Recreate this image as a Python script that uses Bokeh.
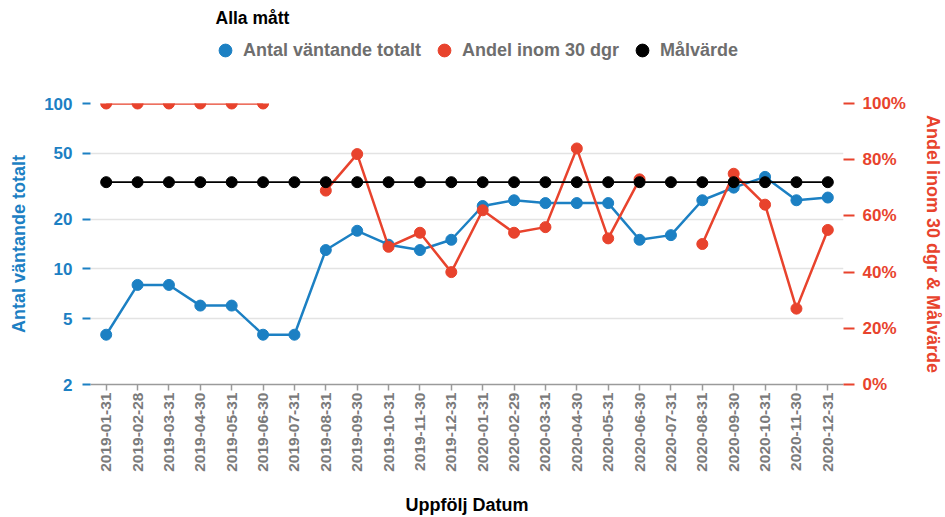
import math
from bokeh.plotting import figure
from bokeh.layouts import column
from bokeh.models import (Range1d, FactorRange, LinearAxis, LinearScale, FixedTicker,
                          PrintfTickFormatter, Legend, LegendItem)
from bokeh.embed import file_html
from bokeh.resources import INLINE

NaN = float("nan")

dates = ["2019-01-31", "2019-02-28", "2019-03-31", "2019-04-30", "2019-05-31", "2019-06-30",
         "2019-07-31", "2019-08-31", "2019-09-30", "2019-10-31", "2019-11-30", "2019-12-31",
         "2020-01-31", "2020-02-29", "2020-03-31", "2020-04-30", "2020-05-31", "2020-06-30",
         "2020-07-31", "2020-08-31", "2020-09-30", "2020-10-31", "2020-11-30", "2020-12-31"]
antal_vantande = [4, 8, 8, 6, 6, 4, 4, 13, 17, 14, 13, 15, 24, 26, 25, 25, 25, 15, 16, 26, 31, 36, 26, 27]
andel_30 = [100, 100, 100, 100, 100, 100, NaN, 69, 82, 49, 54, 40, 62, 54, 56, 84, 52, 73, NaN, 50, 75, 64, 27, 55]
malvarde = [72] * 24

series_names = ["Antal väntande totalt", "Andel inom 30 dgr", "Målvärde"]
left_ticks = [2, 5, 10, 20, 50, 100]
right_ticks = [0, 20, 40, 60, 80, 100]

BLUE = "#1C80C3"
RED = "#E8432D"
BLACK = "#000000"
GREY = "#7a7a7a"
FONT = "Liberation Sans"

# ---------------- header: title + legend ----------------
head = figure(width=945, height=70, x_range=(0, 1), y_range=(0, 1),
              output_backend="svg", toolbar_location=None,
              min_border_left=0, min_border_right=0, min_border_top=0, min_border_bottom=0)
head.axis.visible = False
head.grid.grid_line_color = None
head.outline_line_color = None
head.title.text = "Alla mått"
head.title.align = "left"
head.title.offset = 125
head.title.text_font = FONT
head.title.text_font_style = "bold"
head.title.text_font_size = "17.5px"
head.title.text_color = BLACK

# legend proxies (no visible data, only used for the legend swatches)
lg_renderers = [head.scatter(x=[NaN], y=[NaN], size=11, fill_color=c, line_color=c)
                for c in (BLUE, RED, BLACK)]
legend = Legend(items=[LegendItem(label=n, renderers=[r]) for n, r in zip(series_names, lg_renderers)],
                orientation="horizontal", location=(119, 4),
                border_line_color=None, background_fill_alpha=0,
                padding=0, margin=0, spacing=7,
                glyph_width=32, glyph_height=32, label_standoff=2,
                label_text_font=FONT, label_text_font_style="bold",
                label_text_font_size="18px", label_text_color="#6e6e6e")
head.add_layout(legend)

# ---------------- main chart ----------------
p = figure(width=945, height=447, x_range=FactorRange(factors=dates, range_padding=0),
           y_axis_type="log", y_range=Range1d(2, 100),
           output_backend="svg", toolbar_location=None,
           min_border_left=90, min_border_right=93, min_border_top=33, min_border_bottom=132)
p.outline_line_color = None
p.background_fill_color = "white"
p.extra_y_ranges = {"pct": Range1d(0, 100)}
p.extra_y_scales = {"pct": LinearScale()}

p.xgrid.grid_line_color = None
p.ygrid.ticker = FixedTicker(ticks=[5, 10, 20, 50, 100])
p.ygrid.grid_line_color = "#e3e3e3"
p.ygrid.grid_line_width = 1.5

p.line(dates, antal_vantande, line_color=BLUE, line_width=2.5)
p.scatter(dates, antal_vantande, size=11, fill_color=BLUE, line_color=BLUE)
p.line(dates, andel_30, y_range_name="pct", line_color=RED, line_width=2.5)
p.scatter(dates, andel_30, y_range_name="pct", size=11, fill_color=RED, line_color=RED)
p.line(dates, malvarde, y_range_name="pct", line_color=BLACK, line_width=1.8)
p.scatter(dates, malvarde, y_range_name="pct", size=11, fill_color=BLACK, line_color=BLACK)

# left axis
ya = p.yaxis[0]
ya.ticker = FixedTicker(ticks=left_ticks)
ya.formatter = PrintfTickFormatter(format="%d")
ya.axis_label = series_names[0]
ya.axis_line_color = None
ya.major_tick_line_color = BLUE
ya.major_tick_line_width = 2
ya.major_tick_out = 8
ya.major_tick_in = 0
ya.minor_tick_line_color = None
ya.major_label_text_color = BLUE
ya.major_label_text_font = FONT
ya.major_label_text_font_style = "bold"
ya.major_label_text_font_size = "17px"
ya.major_label_standoff = 10
ya.axis_label_text_color = BLUE
ya.axis_label_text_font = FONT
ya.axis_label_text_font_style = "bold"
ya.axis_label_text_font_size = "18px"
ya.axis_label_standoff = 12

# right axis
ra = LinearAxis(y_range_name="pct", ticker=FixedTicker(ticks=right_ticks),
                formatter=PrintfTickFormatter(format="%d%%"),
                axis_label="Andel inom 30 dgr & Målvärde")
ra.axis_line_color = None
ra.major_tick_line_color = RED
ra.major_tick_line_width = 2
ra.major_tick_out = 11
ra.major_tick_in = 0
ra.minor_tick_line_color = None
ra.major_label_text_color = RED
ra.major_label_text_font = FONT
ra.major_label_text_font_style = "bold"
ra.major_label_text_font_size = "17px"
ra.major_label_standoff = 8
ra.axis_label_text_color = RED
ra.axis_label_text_font = FONT
ra.axis_label_text_font_style = "bold"
ra.axis_label_text_font_size = "18px"
ra.axis_label_standoff = 14
p.add_layout(ra, "right")

# bottom axis
xa = p.xaxis[0]
xa.major_label_orientation = math.pi / 2
xa.axis_line_color = "#9a9a9a"
xa.axis_line_width = 1.5
xa.major_tick_line_color = "#9a9a9a"
xa.major_tick_line_width = 1.5
xa.major_tick_out = 6
xa.major_tick_in = 0
xa.major_label_text_color = GREY
xa.major_label_text_font = FONT
xa.major_label_text_font_style = "bold"
xa.major_label_text_font_size = "15.5px"
xa.major_label_standoff = 2
xa.axis_label = "Uppfölj Datum"
xa.axis_label_text_color = BLACK
xa.axis_label_text_font = FONT
xa.axis_label_text_font_style = "bold"
xa.axis_label_text_font_size = "18px"
xa.axis_label_standoff = 20

layout = column(head, p, spacing=0)
open("out.html", "w").write(file_html(layout, INLINE))
